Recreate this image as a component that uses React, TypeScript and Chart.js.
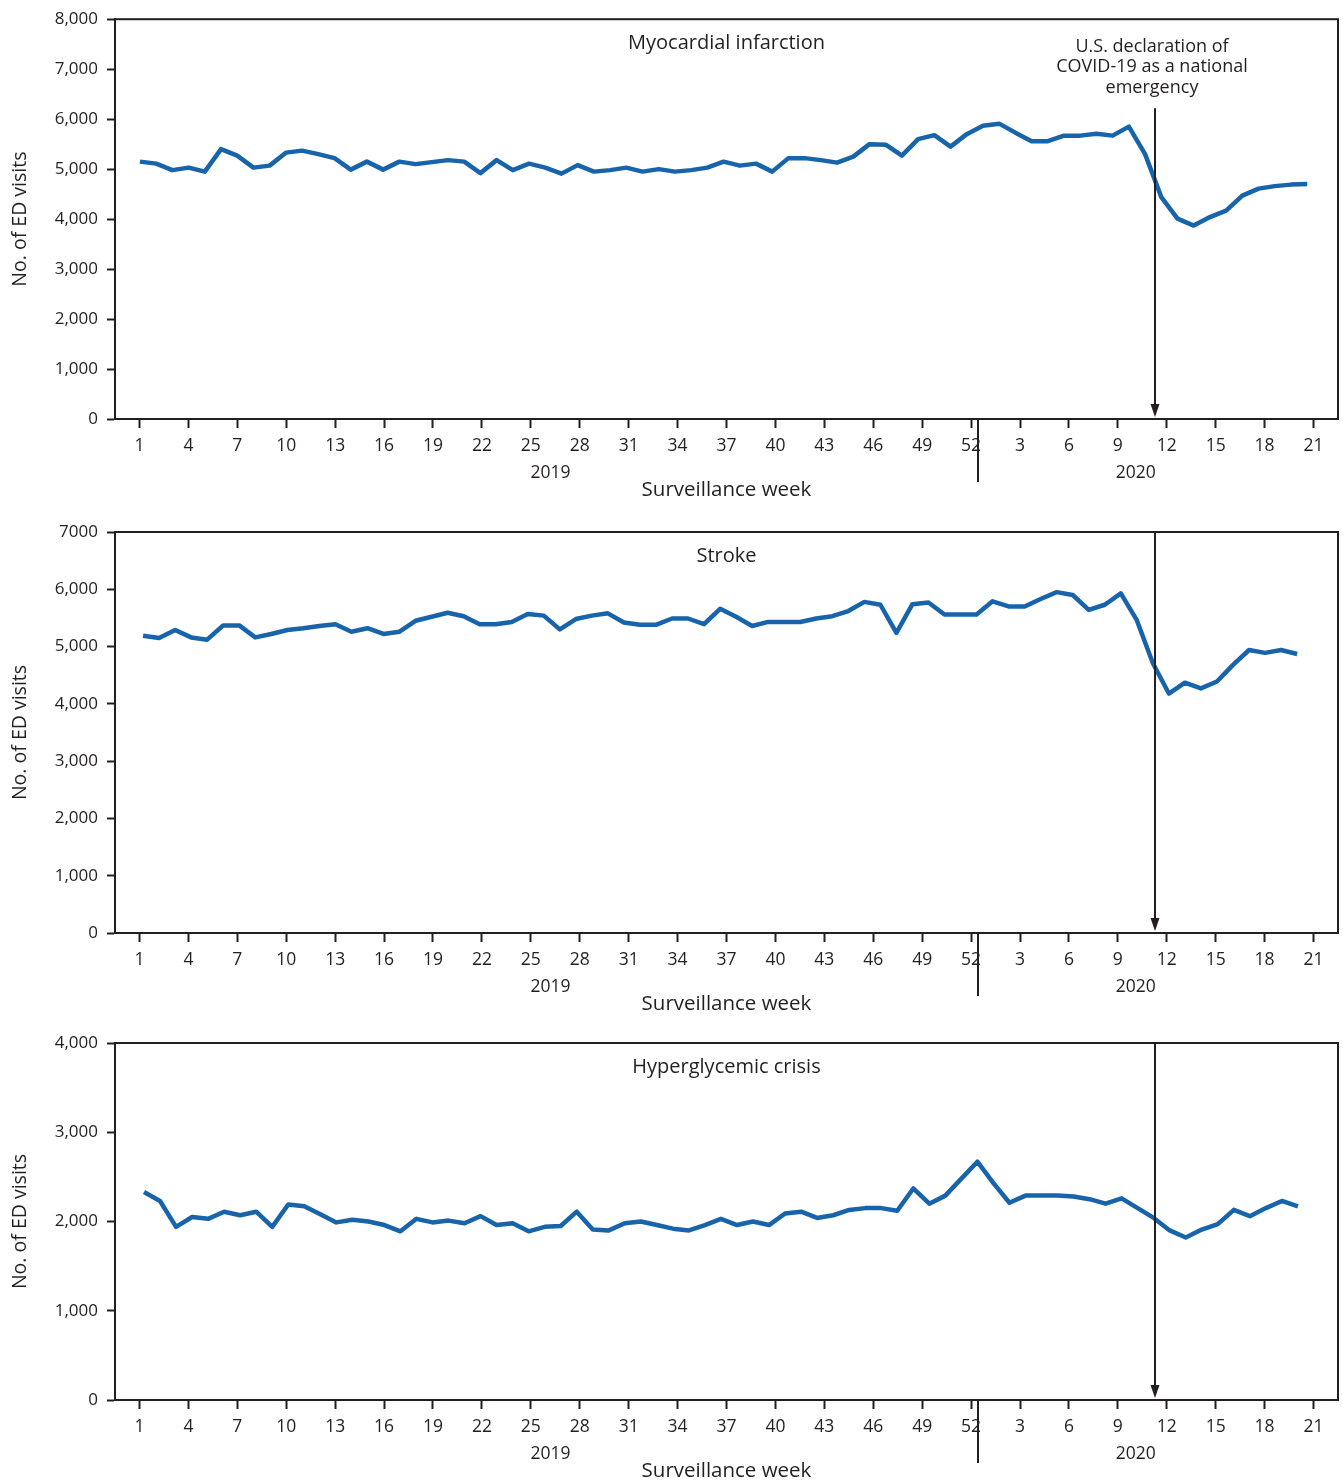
import React, { useEffect, useRef } from "react";
import { Chart, registerables } from "chart.js";

Chart.register(...registerables);

const FONT = "'Open Sans', 'DejaVu Sans', sans-serif";
const TEXT = "#231f20";
const LINE_BLUE = "#1764ab";

// ---- tick labels / categories ----
const xTickLabels = [
  "1", "4", "7", "10", "13", "16", "19", "22", "25", "28", "31", "34", "37", "40", "43", "46", "49", "52",
  "3", "6", "9", "12", "15", "18", "21",
];
const years = ["2019", "2020"];
const xAxisTitle = "Surveillance week";
const yAxisTitle = "No. of ED visits";
const annotationLines = ["U.S. declaration of", "COVID-19 as a national", "emergency"];

// week positions on the continuous week index (2019 wk1 = 0 ... 2020 wk21 = 72)
const separatorIndex = 51.4; // between 2019 wk52 and 2020 wk1
const declarationIndex = 62.3; // U.S. national emergency declaration (2020 wk 11)
const yearLabelIndex = [25.2, 61.1];

// ---- series values ----
const miValues2019 = [
  5150, 5110, 4980, 5030, 4950, 5400, 5270, 5030, 5070, 5330,
  5370, 5300, 5220, 4990, 5150, 4990, 5150, 5100, 5140, 5180,
  5150, 4920, 5180, 4980, 5110, 5030, 4910, 5080, 4950, 4980,
  5030, 4950, 5000, 4950, 4980, 5030, 5150, 5070, 5110, 4950,
  5220, 5220, 5180, 5130, 5250, 5500, 5490, 5270, 5600, 5680,
  5450, 5700,
];
const miValues2020 = [
  5870, 5910, 5730, 5560, 5560, 5670, 5670, 5710, 5670, 5850,
  5300, 4440, 4010, 3870, 4040, 4170, 4470, 4610, 4660, 4690, 4700,
];

const strokeValues2019 = [
  5190, 5150, 5290, 5160, 5120, 5370, 5370, 5160, 5220, 5290,
  5320, 5360, 5390, 5260, 5320, 5220, 5260, 5450, 5520, 5590,
  5530, 5390, 5390, 5430, 5570, 5540, 5300, 5480, 5540, 5580,
  5420, 5380, 5380, 5490, 5490, 5390, 5660, 5520, 5360, 5430,
  5430, 5430, 5490, 5530, 5620, 5780, 5730, 5240, 5740, 5770,
  5560, 5560,
];
const strokeValues2020 = [
  5560, 5790, 5700, 5700, 5830, 5950, 5900, 5640, 5730, 5930,
  5460, 4710, 4180, 4370, 4270, 4390, 4680, 4940, 4890, 4940, 4870,
];

const hyperValues2019 = [
  2330, 2230, 1940, 2050, 2030, 2110, 2070, 2110, 1940, 2190,
  2170, 2080, 1990, 2020, 2000, 1960, 1890, 2030, 1990, 2010,
  1980, 2060, 1960, 1980, 1890, 1940, 1950, 2110, 1910, 1900,
  1980, 2000, 1960, 1920, 1900, 1960, 2030, 1960, 2000, 1960,
  2090, 2110, 2040, 2070, 2130, 2150, 2150, 2120, 2370, 2200,
  2290, 2480,
];
const hyperValues2020 = [
  2670, 2430, 2210, 2290, 2290, 2290, 2280, 2250, 2200, 2260,
  2150, 2040, 1900, 1820, 1910, 1970, 2130, 2060, 2150, 2230, 2170,
];

// ---- y ticks ----
const miYTicks = [0, 1000, 2000, 3000, 4000, 5000, 6000, 7000, 8000];
const miYTickLabels = ["0", "1,000", "2,000", "3,000", "4,000", "5,000", "6,000", "7,000", "8,000"];
const strokeYTicks = [0, 1000, 2000, 3000, 4000, 5000, 6000, 7000];
const strokeYTickLabels = ["0", "1,000", "2,000", "3,000", "4,000", "5,000", "6,000", "7000"];
const hyperYTicks = [0, 1000, 2000, 3000, 4000];
const hyperYTickLabels = ["0", "1,000", "2,000", "3,000", "4,000"];

type PanelSpec = {
  title: string;
  values2019: number[];
  values2020: number[];
  yTicks: number[];
  yTickLabels: string[];
  canvasTop: number;
  canvasHeight: number;
  plotTop: number;
  plotBottom: number;
  dataMin: number;
  dataMax: number;
  annotation: boolean;
};

const W = 1343;

const panels: PanelSpec[] = [
  {
    title: "Myocardial infarction",
    values2019: miValues2019,
    values2020: miValues2020,
    yTicks: miYTicks,
    yTickLabels: miYTickLabels,
    canvasTop: 0,
    canvasHeight: 500,
    plotTop: 18,
    plotBottom: 419,
    dataMin: -1.54,
    dataMax: 73.9,
    annotation: true,
  },
  {
    title: "Stroke",
    values2019: strokeValues2019,
    values2020: strokeValues2020,
    yTicks: strokeYTicks,
    yTickLabels: strokeYTickLabels,
    canvasTop: 500,
    canvasHeight: 510,
    plotTop: 32,
    plotBottom: 433,
    dataMin: -1.75,
    dataMax: 74.55,
    annotation: false,
  },
  {
    title: "Hyperglycemic crisis",
    values2019: hyperValues2019,
    values2020: hyperValues2020,
    yTicks: hyperYTicks,
    yTickLabels: hyperYTickLabels,
    canvasTop: 1010,
    canvasHeight: 473,
    plotTop: 33,
    plotBottom: 390,
    dataMin: -1.81,
    dataMax: 74.5,
    annotation: false,
  },
];

function makeDecorations(spec: PanelSpec) {
  return {
    id: "decorations",
    afterDraw(chart: any) {
      const { ctx, chartArea: a, scales } = chart;
      const xs = scales.x;
      const cx = (a.left + a.right) / 2;
      ctx.save();
      // frame
      ctx.strokeStyle = TEXT;
      ctx.lineWidth = 2;
      ctx.strokeRect(a.left, a.top, a.right - a.left, a.bottom - a.top);

      ctx.fillStyle = TEXT;
      ctx.textAlign = "center";
      ctx.textBaseline = "middle";

      // panel title
      ctx.font = `20px ${FONT}`;
      ctx.fillText(spec.title, cx, a.top + 24);

      // y-axis title
      ctx.save();
      ctx.translate(20, (a.top + a.bottom) / 2);
      ctx.rotate(-Math.PI / 2);
      ctx.font = `19.5px ${FONT}`;
      ctx.fillText(yAxisTitle, 0, 0);
      ctx.restore();

      // year labels
      ctx.font = `17.5px ${FONT}`;
      years.forEach((y, i) => {
        ctx.fillText(y, xs.getPixelForValue(yearLabelIndex[i]), a.bottom + 54);
      });

      // x-axis title
      ctx.font = `20.5px ${FONT}`;
      ctx.fillText(xAxisTitle, cx, a.bottom + 71);

      // year separator
      const sx = Math.round(xs.getPixelForValue(separatorIndex));
      ctx.beginPath();
      ctx.moveTo(sx, a.bottom);
      ctx.lineTo(sx, a.bottom + 63);
      ctx.lineWidth = 2;
      ctx.stroke();

      // declaration arrow
      const ax = Math.round(xs.getPixelForValue(declarationIndex));
      const y0 = spec.annotation ? a.top + 89 : a.top;
      const tip = a.bottom - 2;
      ctx.beginPath();
      ctx.moveTo(ax, y0);
      ctx.lineTo(ax, tip - 8);
      ctx.lineWidth = 2;
      ctx.stroke();
      ctx.beginPath();
      ctx.moveTo(ax - 4.5, tip - 13);
      ctx.lineTo(ax + 4.5, tip - 13);
      ctx.lineTo(ax, tip);
      ctx.closePath();
      ctx.fill();

      if (spec.annotation) {
        ctx.font = `18px ${FONT}`;
        const lx = ax - 3;
        annotationLines.forEach((t, i) => {
          ctx.fillText(t, lx, a.top + 27.5 + i * 20.5);
        });
      }
      ctx.restore();
    },
  };
}

function Panel({ spec }: { spec: PanelSpec }) {
  const ref = useRef<HTMLCanvasElement | null>(null);
  useEffect(() => {
    const canvas = ref.current;
    if (!canvas) return;
    const values = [...spec.values2019, ...spec.values2020];
    const points = values.map((v, i) => ({ x: i, y: v }));
    const yMax = spec.yTicks[spec.yTicks.length - 1];
    const chart = new Chart(canvas, {
      type: "line",
      data: {
        datasets: [
          {
            data: points,
            xAxisID: "xd",
            yAxisID: "y",
            borderColor: LINE_BLUE,
            borderWidth: 4.5,
            pointRadius: 0,
            tension: 0,
            fill: false,
            borderJoinStyle: "round",
          } as any,
        ],
      },
      options: {
        responsive: false,
        animation: false,
        devicePixelRatio: 1,
        layout: { padding: { left: 0, right: 5, top: spec.plotTop, bottom: 0 } },
        plugins: { legend: { display: false }, tooltip: { enabled: false } },
        scales: {
          x: {
            type: "linear",
            position: "bottom",
            min: -1.5,
            max: 73.5,
            afterBuildTicks: (s: any) => {
              s.ticks = xTickLabels.map((_, i) => ({ value: i * 3 }));
            },
            afterFit: (s: any) => {
              s.height = spec.canvasHeight - spec.plotBottom;
            },
            ticks: {
              autoSkip: false,
              maxRotation: 0,
              minRotation: 0,
              padding: 8,
              color: TEXT,
              font: { family: FONT, size: 17.5 },
              callback: (_v: any, i: number) => xTickLabels[i],
            },
            grid: {
              drawOnChartArea: false,
              drawTicks: true,
              tickLength: 9,
              tickWidth: 2,
              tickColor: TEXT,
            },
            border: { display: true, color: TEXT, width: 2 },
          },
          xd: {
            type: "linear",
            display: false,
            min: spec.dataMin,
            max: spec.dataMax,
          },
          y: {
            type: "linear",
            position: "left",
            min: 0,
            max: yMax,
            afterBuildTicks: (s: any) => {
              s.ticks = spec.yTicks.map((v) => ({ value: v }));
            },
            afterFit: (s: any) => {
              s.width = 115;
            },
            ticks: {
              padding: 9,
              color: TEXT,
              font: { family: FONT, size: 17 },
              callback: (_v: any, i: number) => spec.yTickLabels[i],
            },
            grid: {
              drawOnChartArea: false,
              drawTicks: true,
              tickLength: 8,
              tickWidth: 2,
              tickColor: TEXT,
            },
            border: { display: true, color: TEXT, width: 2 },
          },
        } as any,
      },
      plugins: [makeDecorations(spec)],
    });
    return () => chart.destroy();
  }, [spec]);
  return (
    <canvas
      ref={ref}
      width={W}
      height={spec.canvasHeight}
      style={{ position: "absolute", left: 0, top: spec.canvasTop, width: W, height: spec.canvasHeight }}
    />
  );
}

export default function App() {
  return (
    <div style={{ position: "absolute", left: 0, top: 0, width: W, height: 1483, background: "#fff" }}>
      {panels.map((p) => (
        <Panel key={p.title} spec={p} />
      ))}
    </div>
  );
}
